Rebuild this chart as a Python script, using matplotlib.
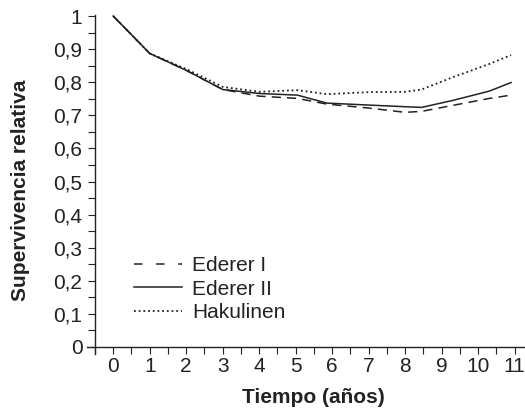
import matplotlib
matplotlib.use("Agg")
import matplotlib.pyplot as plt
from matplotlib.lines import Line2D
from matplotlib.ticker import MultipleLocator, FuncFormatter

# time points (years) and relative survival per method
years = [0, 1, 2, 3, 4, 5.05, 5.85, 7.0, 8.0, 8.45, 9.3, 10.3, 10.9]
ederer_1 = [1.0, 0.887, 0.836, 0.778, 0.758, 0.751, 0.734, 0.722, 0.709, 0.712, 0.730, 0.751, 0.761]
ederer_2 = [1.0, 0.887, 0.836, 0.778, 0.766, 0.761, 0.737, 0.731, 0.726, 0.724, 0.745, 0.773, 0.799]
hakulinen = [1.0, 0.887, 0.840, 0.786, 0.771, 0.776, 0.764, 0.770, 0.771, 0.778, 0.815, 0.855, 0.882]

x_ticks = list(range(0, 12))
y_ticks = [i / 10 for i in range(0, 11)]

plt.rcParams['font.family'] = ['Liberation Sans', 'DejaVu Sans']
ink = '#222222'

fig = plt.figure(figsize=(5.25, 4.08), dpi=100)
ax = fig.add_axes([0.1663, 0.1333, 0.8315, 0.829])

ax.plot(years, ederer_1, color=ink, lw=1.1, linestyle=(0, (6, 4)))
ax.plot(years, ederer_2, color=ink, lw=1.1, linestyle='-')
ax.plot(years, hakulinen, color=ink, lw=1.3, linestyle=(0, (1, 1.6)))

ax.set_xlim(-0.71, 11.25)
ax.set_ylim(-0.02, 1.002)

for side in ['top', 'right']:
    ax.spines[side].set_visible(False)
ax.spines['left'].set_position(('data', -0.5))
ax.spines['bottom'].set_position(('data', 0))
for side in ['left', 'bottom']:
    ax.spines[side].set_color(ink)
    ax.spines[side].set_linewidth(1.0)

ax.set_xticks(x_ticks)
ax.xaxis.set_minor_locator(MultipleLocator(0.5))
ax.set_yticks(y_ticks)
ax.yaxis.set_minor_locator(MultipleLocator(0.05))

def comma(v, pos):
    s = '%g' % round(v, 2)
    return s.replace('.', ',')

ax.yaxis.set_major_formatter(FuncFormatter(comma))
ax.tick_params(which='both', direction='out', length=5, width=0.8, color=ink)
ax.tick_params(axis='x', which='major', labelsize=15, pad=2, labelcolor=ink)
ax.tick_params(axis='y', which='major', labelsize=15, pad=4, labelcolor=ink)

fig.text(21 / 525, 1 - 190 / 408, 'Supervivencia relativa', rotation=90,
         ha='center', va='center', fontsize=15, fontweight='bold', color=ink)
fig.text(313.5 / 525, 0.012, 'Tiempo (años)', ha='center', va='baseline',
         fontsize=15, fontweight='bold', color=ink)

# legend keys drawn the way the original figure shows them
handles = [
    Line2D([], [], color=ink, lw=1.1, linestyle=(0, (5.5, 9))),
    Line2D([], [], color=ink, lw=1.1, linestyle='-'),
    Line2D([], [], color=ink, lw=1.3, linestyle=(0, (1, 1.6))),
]
ax.legend(handles, ['Ederer I', 'Ederer II', 'Hakulinen'],
          loc='upper left', bbox_to_anchor=(134 / 525, 1 - 256 / 408),
          bbox_transform=fig.transFigure, frameon=False, fontsize=15,
          handlelength=2.3, handletextpad=0.5, labelspacing=0.22,
          borderpad=0, borderaxespad=0, labelcolor=ink)

fig.savefig('out.png', dpi=100)
